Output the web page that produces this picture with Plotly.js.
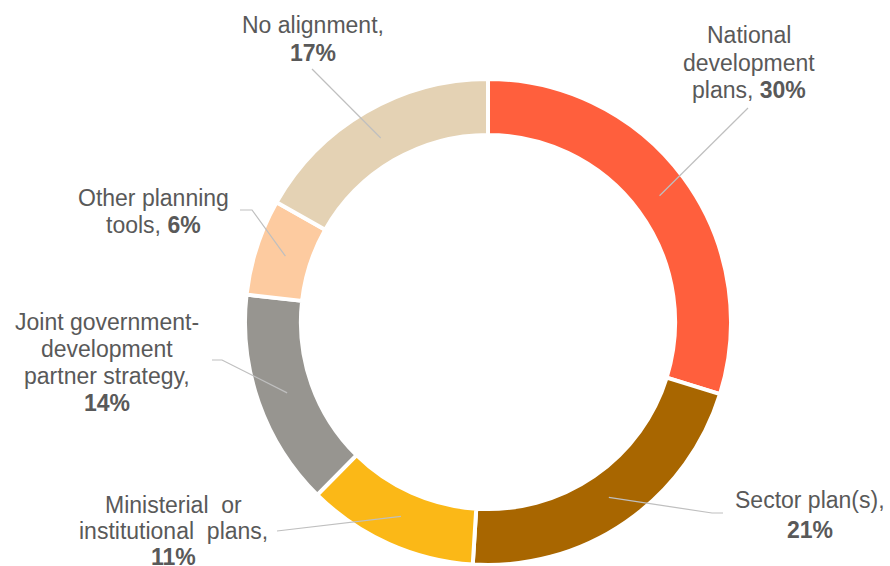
<!DOCTYPE html>
<html>
<head>
<meta charset="utf-8">
<script src="https://cdn.plot.ly/plotly-3.0.1.min.js"></script>
<style>html,body{margin:0;padding:0;background:#fff;}#chart{width:890px;height:566px;}</style>
</head>
<body>
<div id="chart"></div>
<script>
// ---- data ----
const categories = ['National development plans', 'Sector plan(s)', 'Ministerial or institutional plans',
  'Joint government-development partner strategy', 'Other planning tools', 'No alignment'];
const values = [29.8, 21.2, 11.4, 14.4, 6.4, 16.8];
const colors = ['#FF5F3D', '#A86600', '#FBB817', '#979590', '#FDCBA0', '#E4D2B4'];
// label lines ({p} is replaced with the bold rounded percentage)
const labelLines = [
  ['National', 'development', 'plans, {p}'],
  ['Sector plan(s),', '{p}'],
  ['Ministerial  or', 'institutional  plans,', '{p}'],
  ['Joint government-', 'development', 'partner strategy,', '{p}'],
  ['Other planning', 'tools, {p}'],
  ['No alignment,', '{p}']
];

// ---- layout geometry ----
const W = 890, H = 566;
const cx = 488, cy = 322, R = 243, holeFrac = 0.77;
const rMid = 213;
// label placement (pixel): center x, first line y, line step; leader anchor points
const labelPos = [
  {x: 749, y: 35, step: 27.5, lead: [[748, 108]]},
  {x: 810, y: 500, step: 30, lead: [[712, 513], [723, 513]]},
  {x: 173, y: 505, step: 26, lead: [[277, 531]]},
  {x: 107, y: 322, step: 27, lead: [[222, 360], [212, 360]]},
  {x: 153, y: 198, step: 27, lead: [[252, 210], [240, 210]]},
  {x: 313, y: 25, step: 28, lead: [[312, 69]]}
];

const px = x => x / W;
const py = y => 1 - y / H;

const total = values.reduce((a, b) => a + b, 0);
const annotations = [];
const shapes = [];
let cum = 0;
values.forEach((v, i) => {
  const mid = (cum + v / 2) / total * 2 * Math.PI; // clockwise from top
  cum += v;
  const ex = cx + rMid * Math.sin(mid);
  const ey = cy - rMid * Math.cos(mid);
  const pts = [[ex, ey]].concat(labelPos[i].lead);
  const path = pts.map((p, k) => (k ? 'L' : 'M') + px(p[0]).toFixed(5) + ',' + py(p[1]).toFixed(5)).join(' ');
  shapes.push({type: 'path', xref: 'paper', yref: 'paper', path: path,
    line: {color: '#BFBFBF', width: 1.2}});
  const pct = '<b>' + Math.round(v) + '%</b>';
  labelLines[i].forEach((ln, k) => {
    annotations.push({
      xref: 'paper', yref: 'paper',
      x: px(labelPos[i].x), y: py(labelPos[i].y + k * labelPos[i].step),
      xanchor: 'center', yanchor: 'middle', showarrow: false,
      text: ln.replace('{p}', pct),
      font: {family: 'Liberation Sans, Arial, sans-serif', size: 23, color: '#595959'}
    });
  });
});

const trace = {
  type: 'pie',
  labels: categories,
  values: values,
  sort: false,
  direction: 'clockwise',
  rotation: 0,
  hole: holeFrac,
  textinfo: 'none',
  hoverinfo: 'label+percent',
  marker: {colors: colors, line: {color: '#FFFFFF', width: 4}},
  domain: {x: [(cx - R) / W, (cx + R) / W], y: [(H - cy - R) / H, (H - cy + R) / H]},
  showlegend: false
};

const layout = {
  width: W, height: H,
  margin: {l: 0, r: 0, t: 0, b: 0},
  paper_bgcolor: '#FFFFFF',
  showlegend: false,
  annotations: annotations,
  shapes: shapes
};

Plotly.newPlot('chart', [trace], layout, {displayModeBar: false, staticPlot: true});
</script>
</body>
</html>
